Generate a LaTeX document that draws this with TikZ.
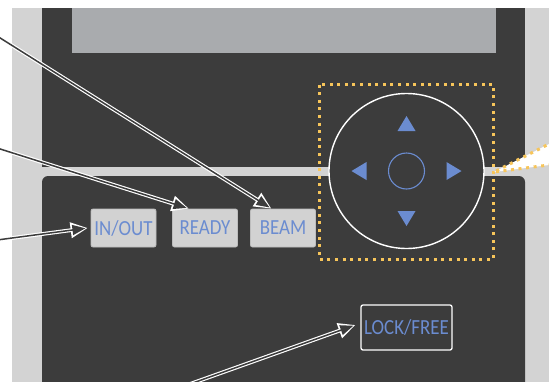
\documentclass[tikz,border=0pt]{standalone}
\usepackage{fontspec}
\setmainfont{Carlito}
\newfontfamily\keyfont[FakeStretch=0.88]{Carlito}
\usepackage{tikz}
\usetikzlibrary{arrows.meta}

\definecolor{panel}{HTML}{3C3C3C}
\definecolor{frame}{HTML}{D3D3D3}
\definecolor{screen}{HTML}{A9ABAE}
\definecolor{keyface}{HTML}{D2D2D2}
\definecolor{keyedge}{HTML}{BDBDBD}
\definecolor{keytext}{HTML}{6B8CD0}
\definecolor{marker}{HTML}{F7C55A}

\begin{document}
\begin{tikzpicture}[x=1pt,y=-1pt,
  key/.style={rectangle, rounded corners=2pt, fill=keyface, draw=keyedge,
    line width=0.8pt, minimum width=65pt, minimum height=38pt, inner sep=0pt,
    text=keytext, font=\keyfont\fontsize{21.5}{21.5}\selectfont},
  lockkey/.style={key, fill=panel, draw=white, line width=1.3pt,
    minimum width=91pt, minimum height=45pt},
  pointer/.style={preaction={draw=white, line width=3.8pt, shorten >=0pt,
      -{Triangle[length=17pt,width=15pt]}},
    draw=panel, line width=1.5pt, shorten >=2.2pt,
    -{Triangle[length=13pt,width=10pt]}},
  dots/.style={draw=marker, line width=3pt, dash pattern=on 3pt off 4.6pt}]

  \useasboundingbox (0,0) rectangle (549,381);
  \fill [white] (0,0) rectangle (549,381);

  %%%%%%%%%%%%%%%%%%%%%%%%%%%%%%%%%%%%%%%%%%%%%%%%%%%%%%%%%%%%%%%%%%%%%%%%
  %% Housing of the control unit
  %%%%%%%%%%%%%%%%%%%%%%%%%%%%%%%%%%%%%%%%%%%%%%%%%%%%%%%%%%%%%%%%%%%%%%%%

  % Outer frame
  \fill [frame] (12,8) rectangle (560,390);

  % Upper panel with the display
  \fill [panel]  (42,8) rectangle (525,167);
  \fill [screen] (72,8) rectangle (496,53);

  % Lower panel
  \fill [panel, rounded corners=6pt] (42,176) rectangle (525,400);

  %%%%%%%%%%%%%%%%%%%%%%%%%%%%%%%%%%%%%%%%%%%%%%%%%%%%%%%%%%%%%%%%%%%%%%%%
  %% Direction pad
  %%%%%%%%%%%%%%%%%%%%%%%%%%%%%%%%%%%%%%%%%%%%%%%%%%%%%%%%%%%%%%%%%%%%%%%%

  \coordinate (pad) at (406.5,171);

  % Highlight
  \draw [dots] (319.5,84.5) rectangle (493.5,259);

  % Outer ring and centre key
  \node [circle, draw=white, fill=panel, line width=1.4pt,
         minimum size=155pt, inner sep=0pt] (ring) at (pad) {};
  \node [circle, draw=keytext, line width=1.1pt,
         minimum size=36pt, inner sep=0pt] (centre) at (pad) {};

  % Direction triangles
  \foreach \ang in {0,90,180,270}
    \fill [keytext, shift={(pad)}, rotate=\ang] (55,0) -- (40,-9) -- (40,9) -- cycle;

  % Zoom wedge towards the right
  \coordinate (tail) at (494,172);
  \fill [white] (tail) -- (560,138.4) -- (560,163.6) -- cycle;
  \draw [dots] (560,138.4) -- (tail) -- (560,163.6);

  %%%%%%%%%%%%%%%%%%%%%%%%%%%%%%%%%%%%%%%%%%%%%%%%%%%%%%%%%%%%%%%%%%%%%%%%
  %% Keys
  %%%%%%%%%%%%%%%%%%%%%%%%%%%%%%%%%%%%%%%%%%%%%%%%%%%%%%%%%%%%%%%%%%%%%%%%

  \foreach \name/\cx/\txt in {inout/123.5/{IN/OUT}, ready/205/READY, beam/283/BEAM}
    \node [key] (\name) at (\cx,228) {\txt};

  \node [lockkey] (lock) at (406.5,327.5) {LOCK/FREE};

  %%%%%%%%%%%%%%%%%%%%%%%%%%%%%%%%%%%%%%%%%%%%%%%%%%%%%%%%%%%%%%%%%%%%%%%%
  %% Pointers
  %%%%%%%%%%%%%%%%%%%%%%%%%%%%%%%%%%%%%%%%%%%%%%%%%%%%%%%%%%%%%%%%%%%%%%%%

  \coordinate (to beam)  at (-3,36);
  \coordinate (to ready) at (-3,148);
  \coordinate (to inout) at (-3,240);
  \coordinate (to lock)  at (190,384);

  \draw [pointer] (to beam)  -- (beam.121);
  \draw [pointer] (to ready) -- (ready.130);
  \draw [pointer] (to inout) -- ([xshift=-3pt]inout.west);
  \draw [pointer] (to lock)  -- ([xshift=-5pt,yshift=2.5pt]lock.west);

\end{tikzpicture}
\end{document}
